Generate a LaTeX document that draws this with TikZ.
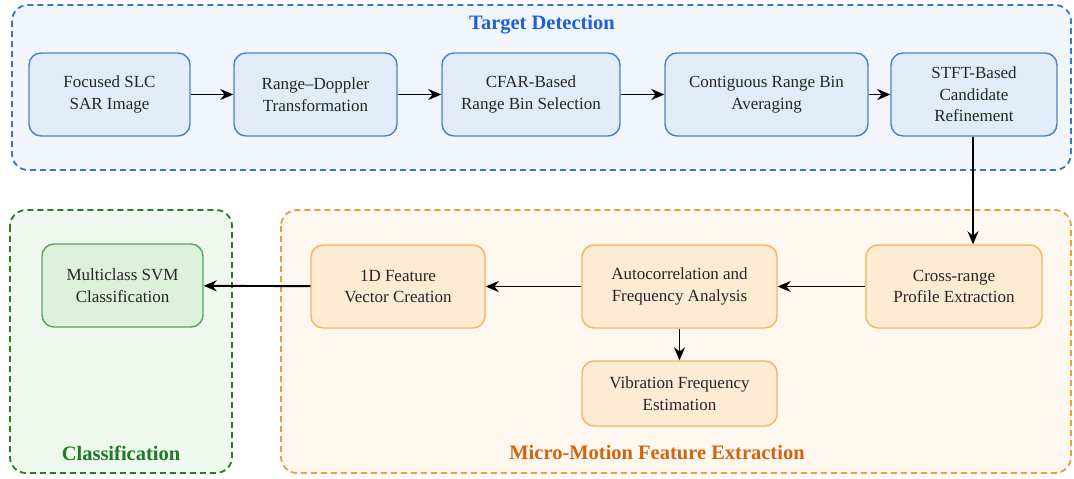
\documentclass[tikz,border=0pt]{standalone}
\usepackage{fontspec}
\setmainfont{Liberation Serif}
\usetikzlibrary{arrows.meta}
\definecolor{bframe}{HTML}{3A72D6}
\definecolor{bfill}{HTML}{F1F6FD}
\definecolor{bnode}{HTML}{E2EBF8}
\definecolor{bborder}{HTML}{4A80CA}
\definecolor{btitle}{HTML}{1F5FDB}
\definecolor{gframe}{HTML}{2A7A2A}
\definecolor{gfill}{HTML}{EEF8EE}
\definecolor{gnode}{HTML}{DDF0DA}
\definecolor{gborder}{HTML}{5AA55A}
\definecolor{gtitle}{HTML}{1E7A1E}
\definecolor{oframe}{HTML}{F29A3A}
\definecolor{ofill}{HTML}{FDF7F0}
\definecolor{onode}{HTML}{FDEBD3}
\definecolor{oborder}{HTML}{F6B455}
\definecolor{otitle}{HTML}{D2640F}
\tikzset{
  frame/.style={draw, dashed, dash pattern=on 6pt off 4pt, line width=1.8pt, rounded corners=16pt},
  box/.style={draw, line width=1.4pt, rounded corners=12pt, align=center, inner sep=0pt,
    font=\fontsize{17}{21.5}\selectfont, text=black!85},
  bbox/.style={box, fill=bnode, draw=bborder},
  gbox/.style={box, fill=gnode, draw=gborder},
  obox/.style={box, fill=onode, draw=oborder},
  ttl/.style={font=\fontsize{20.5}{24}\selectfont\bfseries},
  arr/.style={-{Stealth[length=13pt,width=11pt]}, line width=1.9pt, black}
}
\begin{document}
\begin{tikzpicture}[x=1pt,y=-1pt]
\useasboundingbox (0,0) rectangle (1074,479);
% frames
\draw[frame, draw=bframe, fill=bfill] (12,5) rectangle (1071,170);
\draw[frame, draw=gframe, fill=gfill] (10,210) rectangle (232,473);
\draw[frame, draw=oframe, fill=ofill] (281,210) rectangle (1071,473);
\node[ttl, text=btitle] (t1) at (542,25) {Target Detection};
\node[ttl, text=gtitle] (t2) at (121,453) {Classification};
\node[ttl, text=otitle] (t3) at (657,453) {Micro-Motion Feature Extraction};
% top row
\node[bbox, minimum width=161pt, minimum height=83pt] (n1) at (109.5,94.5) {Focused SLC\\SAR Image};
\node[bbox, minimum width=163pt, minimum height=83pt] (n2) at (315.5,94.5) {Range--Doppler\\Transformation};
\node[bbox, minimum width=178pt, minimum height=83pt] (n3) at (531,94.5) {CFAR-Based\\Range Bin Selection};
\node[bbox, minimum width=203pt, minimum height=83pt] (n4) at (766.5,94.5) {Contiguous Range Bin\\Averaging};
\node[bbox, minimum width=166pt, minimum height=83pt] (n5) at (974,94.5) {STFT-Based\\Candidate\\Refinement};
% bottom
\node[gbox, minimum width=161pt, minimum height=83pt] (m1) at (122.5,285.5) {Multiclass SVM\\Classification};
\node[obox, minimum width=174pt, minimum height=83pt] (m2) at (398,286.5) {1D Feature\\Vector Creation};
\node[obox, minimum width=195pt, minimum height=83pt] (m3) at (679.5,286.5) {Autocorrelation and\\Frequency Analysis};
\node[obox, minimum width=176pt, minimum height=83pt] (m4) at (954,286.5) {Cross-range\\Profile Extraction};
\node[obox, minimum width=195pt, minimum height=65pt] (m5) at (679.5,393.5) {Vibration Frequency\\Estimation};
% arrows
\draw[arr] (n1) -- (n2);
\draw[arr] (n2) -- (n3);
\draw[arr] (n3) -- (n4);
\draw[arr] (n4) -- (n5);
\draw[arr] (n5.south -| 973,0) -- (m4.north -| 973,0);
\draw[arr] (m4) -- (m3);
\draw[arr] (m3) -- (m2);
\draw[arr] (m2) -- (m1);
\draw[arr] (m3) -- (m5);
\end{tikzpicture}
\end{document}
